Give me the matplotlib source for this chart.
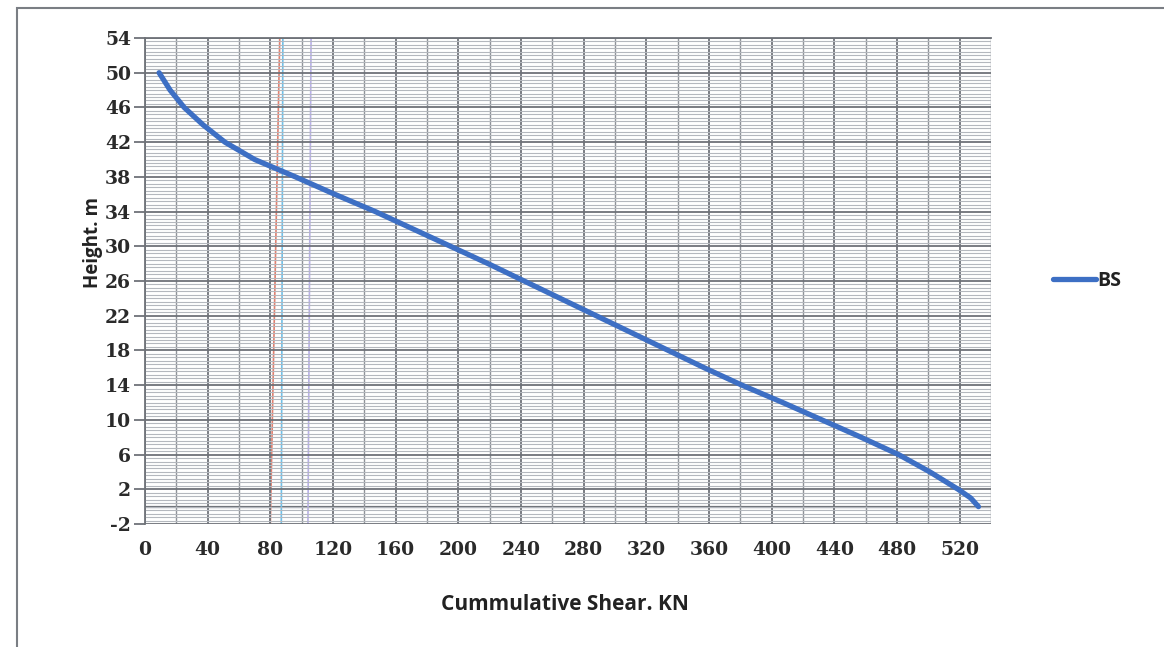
import numpy as np
import matplotlib
matplotlib.use("Agg")
import matplotlib.pyplot as plt
from matplotlib.patches import Rectangle

# ---- data ----
height_m = [50, 48, 46, 44, 42, 40, 38, 36, 34, 32, 30, 28, 26, 24, 22, 20,
            18, 16, 14, 12, 10, 8, 6, 4, 2, 1, 0]
shear_kn = [9, 16, 25, 37, 51, 70, 96, 121, 147, 171, 195, 219, 242, 265, 288, 311,
            334, 357, 381, 407, 432, 457, 481, 501, 519, 527, 532]
series_name = "BS"

x_ticks = list(range(0, 521, 40))
y_ticks = list(range(-2, 55, 4))
x_label = "Cummulative Shear. KN"
y_label = "Height. m"

# scan artefact lines (x at top, x at bottom, colour)
artefacts = [(86, 80, "#E08070"), (88, 87, "#70C0E8"), (106, 104, "#B8B0E8")]

fig = plt.figure(figsize=(11.64, 6.47), dpi=100)
ax = fig.add_axes([145/1164, 1-524/647, 846/1164, 486/647])

ax.set_xlim(0, 540)
ax.set_ylim(-2, 54)

# grid
ax.set_xticks(x_ticks)
ax.set_yticks(y_ticks)
ax.set_xticks(np.arange(0, 541, 20), minor=True)
ax.set_yticks(np.arange(-2, 54.01, 0.4), minor=True)
ax.grid(which="major", axis="both", color="#6E7278", lw=1.3, zorder=1)
ax.grid(which="minor", axis="x", color="#8E9298", lw=1.0, zorder=1)
ax.grid(which="minor", axis="y", color="#B4B8BE", lw=0.8, zorder=0.9)
ax.axhline(0, color="#6E7278", lw=1.6, zorder=1.2)

for xt, xb, c in artefacts:
    ax.plot([xt, xb], [54, -2], color=c, lw=1.2, zorder=1.5)

ax.plot(shear_kn, height_m, color="#3D6FC4", lw=3.8, solid_capstyle="round",
        label=series_name, zorder=3)

for s in ["right", "bottom"]:
    ax.spines[s].set_visible(False)
ax.spines["top"].set_color("#6E7278")
ax.spines["left"].set_color("#6E7278")
ax.spines["left"].set_linewidth(1.3)
ax.spines["top"].set_linewidth(1.3)

ax.tick_params(axis="y", which="major", length=8, width=1.3, color="#6E7278", pad=2)
ax.tick_params(axis="x", which="major", length=0, pad=12)
ax.tick_params(which="minor", length=0)

tick_font = dict(family="DejaVu Serif", weight="bold", size=13.5)
ax.set_xticklabels([str(v) for v in x_ticks], **tick_font, color="#2A2A2A")
ax.set_yticklabels([str(v) for v in y_ticks], **tick_font, color="#2A2A2A")

ax.set_xlabel(x_label, family="Open Sans", weight="bold", size=15, color="#222222")
ax.set_ylabel(y_label, family="Open Sans", weight="bold", size=13.5, color="#222222")
ax.xaxis.set_label_coords((565-145)/846, (524-605)/486)
ax.yaxis.set_label_coords((93-145)/846, (524-243)/486)
ax.yaxis.label.set_verticalalignment("center")
ax.xaxis.label.set_verticalalignment("center")

leg = ax.legend(loc="center left", bbox_to_anchor=(1053/1164, 1-281/647),
                bbox_transform=fig.transFigure, frameon=False, borderpad=0,
                borderaxespad=0, handlelength=2.2, handletextpad=0.1,
                prop=dict(family="Open Sans", weight="bold", size=14))
for t in leg.get_texts():
    t.set_color("#222222")

# outer chart frame
fig.patches.append(Rectangle((17/1164, -0.01), 1.2, 1-8/647+0.01, transform=fig.transFigure,
                             fill=False, edgecolor="#7A7E84", lw=1.5))

fig.savefig("out.png", dpi=100)
